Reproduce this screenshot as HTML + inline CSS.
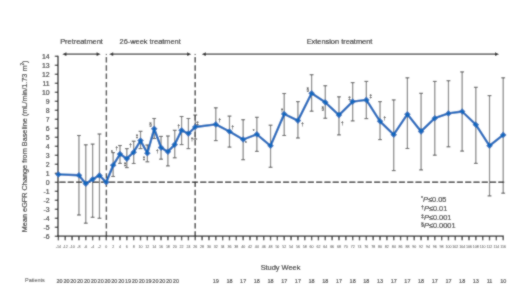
<!DOCTYPE html>
<html><head><meta charset="utf-8"><style>
html,body{margin:0;padding:0;background:#fff;}
body{width:520px;height:295px;overflow:hidden;}
svg{display:block;font-family:"Liberation Sans",sans-serif;}
text{stroke:#222;stroke-width:0.15px;}
</style></head><body>
<svg width="520" height="295" viewBox="0 0 520 295">
<defs><filter id="bl" x="0" y="0" width="520" height="295" filterUnits="userSpaceOnUse"><feConvolveMatrix order="3" kernelMatrix="1 2 1 2 12 2 1 2 1" edgeMode="none"/></filter></defs>
<rect width="520" height="295" fill="#fff"/>
<g filter="url(#bl)">
<rect width="520" height="295" fill="#fff"/>
<line x1="78.93" y1="135.50" x2="78.93" y2="215.00" stroke="#7c7c7c" stroke-width="1.2"/>
<line x1="77.03" y1="135.50" x2="80.83" y2="135.50" stroke="#555" stroke-width="1.1"/>
<line x1="77.03" y1="215.00" x2="80.83" y2="215.00" stroke="#555" stroke-width="1.1"/>
<line x1="85.77" y1="144.80" x2="85.77" y2="223.20" stroke="#7c7c7c" stroke-width="1.2"/>
<line x1="83.87" y1="144.80" x2="87.67" y2="144.80" stroke="#555" stroke-width="1.1"/>
<line x1="83.87" y1="223.20" x2="87.67" y2="223.20" stroke="#555" stroke-width="1.1"/>
<line x1="92.61" y1="144.10" x2="92.61" y2="217.30" stroke="#7c7c7c" stroke-width="1.2"/>
<line x1="90.71" y1="144.10" x2="94.51" y2="144.10" stroke="#555" stroke-width="1.1"/>
<line x1="90.71" y1="217.30" x2="94.51" y2="217.30" stroke="#555" stroke-width="1.1"/>
<line x1="99.46" y1="134.00" x2="99.46" y2="218.30" stroke="#7c7c7c" stroke-width="1.2"/>
<line x1="97.56" y1="134.00" x2="101.36" y2="134.00" stroke="#555" stroke-width="1.1"/>
<line x1="97.56" y1="218.30" x2="101.36" y2="218.30" stroke="#555" stroke-width="1.1"/>
<line x1="113.14" y1="152.60" x2="113.14" y2="176.50" stroke="#7c7c7c" stroke-width="1.2"/>
<line x1="111.24" y1="152.60" x2="115.04" y2="152.60" stroke="#555" stroke-width="1.1"/>
<line x1="111.24" y1="176.50" x2="115.04" y2="176.50" stroke="#555" stroke-width="1.1"/>
<line x1="119.99" y1="145.50" x2="119.99" y2="163.40" stroke="#7c7c7c" stroke-width="1.2"/>
<line x1="118.09" y1="145.50" x2="121.89" y2="145.50" stroke="#555" stroke-width="1.1"/>
<line x1="118.09" y1="163.40" x2="121.89" y2="163.40" stroke="#555" stroke-width="1.1"/>
<line x1="126.83" y1="148.60" x2="126.83" y2="167.60" stroke="#7c7c7c" stroke-width="1.2"/>
<line x1="124.93" y1="148.60" x2="128.73" y2="148.60" stroke="#555" stroke-width="1.1"/>
<line x1="124.93" y1="167.60" x2="128.73" y2="167.60" stroke="#555" stroke-width="1.1"/>
<line x1="133.67" y1="141.20" x2="133.67" y2="163.50" stroke="#7c7c7c" stroke-width="1.2"/>
<line x1="131.77" y1="141.20" x2="135.57" y2="141.20" stroke="#555" stroke-width="1.1"/>
<line x1="131.77" y1="163.50" x2="135.57" y2="163.50" stroke="#555" stroke-width="1.1"/>
<line x1="140.52" y1="131.30" x2="140.52" y2="148.60" stroke="#7c7c7c" stroke-width="1.2"/>
<line x1="138.62" y1="131.30" x2="142.42" y2="131.30" stroke="#555" stroke-width="1.1"/>
<line x1="138.62" y1="148.60" x2="142.42" y2="148.60" stroke="#555" stroke-width="1.1"/>
<line x1="147.36" y1="145.00" x2="147.36" y2="161.80" stroke="#7c7c7c" stroke-width="1.2"/>
<line x1="145.46" y1="145.00" x2="149.26" y2="145.00" stroke="#555" stroke-width="1.1"/>
<line x1="145.46" y1="161.80" x2="149.26" y2="161.80" stroke="#555" stroke-width="1.1"/>
<line x1="154.20" y1="118.50" x2="154.20" y2="138.50" stroke="#7c7c7c" stroke-width="1.2"/>
<line x1="152.30" y1="118.50" x2="156.10" y2="118.50" stroke="#555" stroke-width="1.1"/>
<line x1="152.30" y1="138.50" x2="156.10" y2="138.50" stroke="#555" stroke-width="1.1"/>
<line x1="161.05" y1="136.40" x2="161.05" y2="159.20" stroke="#7c7c7c" stroke-width="1.2"/>
<line x1="159.15" y1="136.40" x2="162.95" y2="136.40" stroke="#555" stroke-width="1.1"/>
<line x1="159.15" y1="159.20" x2="162.95" y2="159.20" stroke="#555" stroke-width="1.1"/>
<line x1="167.89" y1="136.00" x2="167.89" y2="165.90" stroke="#7c7c7c" stroke-width="1.2"/>
<line x1="165.99" y1="136.00" x2="169.79" y2="136.00" stroke="#555" stroke-width="1.1"/>
<line x1="165.99" y1="165.90" x2="169.79" y2="165.90" stroke="#555" stroke-width="1.1"/>
<line x1="174.73" y1="130.30" x2="174.73" y2="157.80" stroke="#7c7c7c" stroke-width="1.2"/>
<line x1="172.83" y1="130.30" x2="176.63" y2="130.30" stroke="#555" stroke-width="1.1"/>
<line x1="172.83" y1="157.80" x2="176.63" y2="157.80" stroke="#555" stroke-width="1.1"/>
<line x1="181.58" y1="116.50" x2="181.58" y2="144.60" stroke="#7c7c7c" stroke-width="1.2"/>
<line x1="179.68" y1="116.50" x2="183.48" y2="116.50" stroke="#555" stroke-width="1.1"/>
<line x1="179.68" y1="144.60" x2="183.48" y2="144.60" stroke="#555" stroke-width="1.1"/>
<line x1="188.42" y1="118.50" x2="188.42" y2="148.60" stroke="#7c7c7c" stroke-width="1.2"/>
<line x1="186.52" y1="118.50" x2="190.32" y2="118.50" stroke="#555" stroke-width="1.1"/>
<line x1="186.52" y1="148.60" x2="190.32" y2="148.60" stroke="#555" stroke-width="1.1"/>
<line x1="195.26" y1="115.00" x2="195.26" y2="139.00" stroke="#7c7c7c" stroke-width="1.2"/>
<line x1="193.36" y1="115.00" x2="197.16" y2="115.00" stroke="#555" stroke-width="1.1"/>
<line x1="193.36" y1="139.00" x2="197.16" y2="139.00" stroke="#555" stroke-width="1.1"/>
<line x1="215.79" y1="107.80" x2="215.79" y2="140.60" stroke="#7c7c7c" stroke-width="1.2"/>
<line x1="213.89" y1="107.80" x2="217.69" y2="107.80" stroke="#555" stroke-width="1.1"/>
<line x1="213.89" y1="140.60" x2="217.69" y2="140.60" stroke="#555" stroke-width="1.1"/>
<line x1="229.48" y1="116.10" x2="229.48" y2="147.10" stroke="#7c7c7c" stroke-width="1.2"/>
<line x1="227.58" y1="116.10" x2="231.38" y2="116.10" stroke="#555" stroke-width="1.1"/>
<line x1="227.58" y1="147.10" x2="231.38" y2="147.10" stroke="#555" stroke-width="1.1"/>
<line x1="243.16" y1="119.70" x2="243.16" y2="159.70" stroke="#7c7c7c" stroke-width="1.2"/>
<line x1="241.26" y1="119.70" x2="245.06" y2="119.70" stroke="#555" stroke-width="1.1"/>
<line x1="241.26" y1="159.70" x2="245.06" y2="159.70" stroke="#555" stroke-width="1.1"/>
<line x1="256.85" y1="117.30" x2="256.85" y2="151.40" stroke="#7c7c7c" stroke-width="1.2"/>
<line x1="254.95" y1="117.30" x2="258.75" y2="117.30" stroke="#555" stroke-width="1.1"/>
<line x1="254.95" y1="151.40" x2="258.75" y2="151.40" stroke="#555" stroke-width="1.1"/>
<line x1="270.54" y1="125.20" x2="270.54" y2="167.30" stroke="#7c7c7c" stroke-width="1.2"/>
<line x1="268.64" y1="125.20" x2="272.44" y2="125.20" stroke="#555" stroke-width="1.1"/>
<line x1="268.64" y1="167.30" x2="272.44" y2="167.30" stroke="#555" stroke-width="1.1"/>
<line x1="284.22" y1="93.50" x2="284.22" y2="135.50" stroke="#7c7c7c" stroke-width="1.2"/>
<line x1="282.32" y1="93.50" x2="286.12" y2="93.50" stroke="#555" stroke-width="1.1"/>
<line x1="282.32" y1="135.50" x2="286.12" y2="135.50" stroke="#555" stroke-width="1.1"/>
<line x1="297.91" y1="101.60" x2="297.91" y2="138.00" stroke="#7c7c7c" stroke-width="1.2"/>
<line x1="296.01" y1="101.60" x2="299.81" y2="101.60" stroke="#555" stroke-width="1.1"/>
<line x1="296.01" y1="138.00" x2="299.81" y2="138.00" stroke="#555" stroke-width="1.1"/>
<line x1="311.60" y1="74.70" x2="311.60" y2="111.20" stroke="#7c7c7c" stroke-width="1.2"/>
<line x1="309.70" y1="74.70" x2="313.50" y2="74.70" stroke="#555" stroke-width="1.1"/>
<line x1="309.70" y1="111.20" x2="313.50" y2="111.20" stroke="#555" stroke-width="1.1"/>
<line x1="325.28" y1="85.70" x2="325.28" y2="118.30" stroke="#7c7c7c" stroke-width="1.2"/>
<line x1="323.38" y1="85.70" x2="327.18" y2="85.70" stroke="#555" stroke-width="1.1"/>
<line x1="323.38" y1="118.30" x2="327.18" y2="118.30" stroke="#555" stroke-width="1.1"/>
<line x1="338.97" y1="96.80" x2="338.97" y2="134.90" stroke="#7c7c7c" stroke-width="1.2"/>
<line x1="337.07" y1="96.80" x2="340.87" y2="96.80" stroke="#555" stroke-width="1.1"/>
<line x1="337.07" y1="134.90" x2="340.87" y2="134.90" stroke="#555" stroke-width="1.1"/>
<line x1="352.66" y1="82.60" x2="352.66" y2="120.90" stroke="#7c7c7c" stroke-width="1.2"/>
<line x1="350.76" y1="82.60" x2="354.56" y2="82.60" stroke="#555" stroke-width="1.1"/>
<line x1="350.76" y1="120.90" x2="354.56" y2="120.90" stroke="#555" stroke-width="1.1"/>
<line x1="366.34" y1="81.40" x2="366.34" y2="118.60" stroke="#7c7c7c" stroke-width="1.2"/>
<line x1="364.44" y1="81.40" x2="368.24" y2="81.40" stroke="#555" stroke-width="1.1"/>
<line x1="364.44" y1="118.60" x2="368.24" y2="118.60" stroke="#555" stroke-width="1.1"/>
<line x1="380.03" y1="101.60" x2="380.03" y2="139.60" stroke="#7c7c7c" stroke-width="1.2"/>
<line x1="378.13" y1="101.60" x2="381.93" y2="101.60" stroke="#555" stroke-width="1.1"/>
<line x1="378.13" y1="139.60" x2="381.93" y2="139.60" stroke="#555" stroke-width="1.1"/>
<line x1="393.71" y1="99.90" x2="393.71" y2="170.60" stroke="#7c7c7c" stroke-width="1.2"/>
<line x1="391.81" y1="99.90" x2="395.61" y2="99.90" stroke="#555" stroke-width="1.1"/>
<line x1="391.81" y1="170.60" x2="395.61" y2="170.60" stroke="#555" stroke-width="1.1"/>
<line x1="407.40" y1="77.80" x2="407.40" y2="148.50" stroke="#7c7c7c" stroke-width="1.2"/>
<line x1="405.50" y1="77.80" x2="409.30" y2="77.80" stroke="#555" stroke-width="1.1"/>
<line x1="405.50" y1="148.50" x2="409.30" y2="148.50" stroke="#555" stroke-width="1.1"/>
<line x1="421.09" y1="93.30" x2="421.09" y2="169.90" stroke="#7c7c7c" stroke-width="1.2"/>
<line x1="419.19" y1="93.30" x2="422.99" y2="93.30" stroke="#555" stroke-width="1.1"/>
<line x1="419.19" y1="169.90" x2="422.99" y2="169.90" stroke="#555" stroke-width="1.1"/>
<line x1="434.77" y1="81.40" x2="434.77" y2="155.20" stroke="#7c7c7c" stroke-width="1.2"/>
<line x1="432.87" y1="81.40" x2="436.67" y2="81.40" stroke="#555" stroke-width="1.1"/>
<line x1="432.87" y1="155.20" x2="436.67" y2="155.20" stroke="#555" stroke-width="1.1"/>
<line x1="448.46" y1="80.70" x2="448.46" y2="146.80" stroke="#7c7c7c" stroke-width="1.2"/>
<line x1="446.56" y1="80.70" x2="450.36" y2="80.70" stroke="#555" stroke-width="1.1"/>
<line x1="446.56" y1="146.80" x2="450.36" y2="146.80" stroke="#555" stroke-width="1.1"/>
<line x1="462.15" y1="71.90" x2="462.15" y2="151.10" stroke="#7c7c7c" stroke-width="1.2"/>
<line x1="460.25" y1="71.90" x2="464.05" y2="71.90" stroke="#555" stroke-width="1.1"/>
<line x1="460.25" y1="151.10" x2="464.05" y2="151.10" stroke="#555" stroke-width="1.1"/>
<line x1="475.83" y1="87.30" x2="475.83" y2="163.40" stroke="#7c7c7c" stroke-width="1.2"/>
<line x1="473.93" y1="87.30" x2="477.73" y2="87.30" stroke="#555" stroke-width="1.1"/>
<line x1="473.93" y1="163.40" x2="477.73" y2="163.40" stroke="#555" stroke-width="1.1"/>
<line x1="489.52" y1="95.60" x2="489.52" y2="195.90" stroke="#7c7c7c" stroke-width="1.2"/>
<line x1="487.62" y1="95.60" x2="491.42" y2="95.60" stroke="#555" stroke-width="1.1"/>
<line x1="487.62" y1="195.90" x2="491.42" y2="195.90" stroke="#555" stroke-width="1.1"/>
<line x1="503.21" y1="77.80" x2="503.21" y2="193.20" stroke="#7c7c7c" stroke-width="1.2"/>
<line x1="501.31" y1="77.80" x2="505.11" y2="77.80" stroke="#555" stroke-width="1.1"/>
<line x1="501.31" y1="193.20" x2="505.11" y2="193.20" stroke="#555" stroke-width="1.1"/>
<line x1="59.4" y1="182.3" x2="504.2" y2="182.3" stroke="#222" stroke-width="1.5" stroke-dasharray="6.2 2.08"/>
<line x1="106.4" y1="57" x2="106.4" y2="236" stroke="#222" stroke-width="1.35" stroke-dasharray="5.4 2.9"/>
<rect x="105.80000000000001" y="53.9" width="1.2" height="1.2" fill="#444"/>
<line x1="195.2" y1="57" x2="195.2" y2="236" stroke="#222" stroke-width="1.35" stroke-dasharray="5.4 2.9"/>
<rect x="194.6" y="53.9" width="1.2" height="1.2" fill="#444"/>
<line x1="58" y1="55.8" x2="58" y2="236.8" stroke="#1a1a1a" stroke-width="1.3"/>
<line x1="57.4" y1="236.2" x2="503.9" y2="236.2" stroke="#1a1a1a" stroke-width="1.3"/>
<line x1="54.8" y1="236.30" x2="58" y2="236.30" stroke="#1a1a1a" stroke-width="1.2"/>
<text x="49.7" y="238.80" text-anchor="end" font-size="6.9" fill="#222">-6</text>
<line x1="54.8" y1="227.30" x2="58" y2="227.30" stroke="#1a1a1a" stroke-width="1.2"/>
<text x="49.7" y="229.80" text-anchor="end" font-size="6.9" fill="#222">-5</text>
<line x1="54.8" y1="218.30" x2="58" y2="218.30" stroke="#1a1a1a" stroke-width="1.2"/>
<text x="49.7" y="220.80" text-anchor="end" font-size="6.9" fill="#222">-4</text>
<line x1="54.8" y1="209.30" x2="58" y2="209.30" stroke="#1a1a1a" stroke-width="1.2"/>
<text x="49.7" y="211.80" text-anchor="end" font-size="6.9" fill="#222">-3</text>
<line x1="54.8" y1="200.30" x2="58" y2="200.30" stroke="#1a1a1a" stroke-width="1.2"/>
<text x="49.7" y="202.80" text-anchor="end" font-size="6.9" fill="#222">-2</text>
<line x1="54.8" y1="191.30" x2="58" y2="191.30" stroke="#1a1a1a" stroke-width="1.2"/>
<text x="49.7" y="193.80" text-anchor="end" font-size="6.9" fill="#222">-1</text>
<line x1="54.8" y1="182.30" x2="58" y2="182.30" stroke="#1a1a1a" stroke-width="1.2"/>
<text x="49.7" y="184.80" text-anchor="end" font-size="6.9" fill="#222">0</text>
<line x1="54.8" y1="173.30" x2="58" y2="173.30" stroke="#1a1a1a" stroke-width="1.2"/>
<text x="49.7" y="175.80" text-anchor="end" font-size="6.9" fill="#222">1</text>
<line x1="54.8" y1="164.30" x2="58" y2="164.30" stroke="#1a1a1a" stroke-width="1.2"/>
<text x="49.7" y="166.80" text-anchor="end" font-size="6.9" fill="#222">2</text>
<line x1="54.8" y1="155.30" x2="58" y2="155.30" stroke="#1a1a1a" stroke-width="1.2"/>
<text x="49.7" y="157.80" text-anchor="end" font-size="6.9" fill="#222">3</text>
<line x1="54.8" y1="146.30" x2="58" y2="146.30" stroke="#1a1a1a" stroke-width="1.2"/>
<text x="49.7" y="148.80" text-anchor="end" font-size="6.9" fill="#222">4</text>
<line x1="54.8" y1="137.30" x2="58" y2="137.30" stroke="#1a1a1a" stroke-width="1.2"/>
<text x="49.7" y="139.80" text-anchor="end" font-size="6.9" fill="#222">5</text>
<line x1="54.8" y1="128.30" x2="58" y2="128.30" stroke="#1a1a1a" stroke-width="1.2"/>
<text x="49.7" y="130.80" text-anchor="end" font-size="6.9" fill="#222">6</text>
<line x1="54.8" y1="119.30" x2="58" y2="119.30" stroke="#1a1a1a" stroke-width="1.2"/>
<text x="49.7" y="121.80" text-anchor="end" font-size="6.9" fill="#222">7</text>
<line x1="54.8" y1="110.30" x2="58" y2="110.30" stroke="#1a1a1a" stroke-width="1.2"/>
<text x="49.7" y="112.80" text-anchor="end" font-size="6.9" fill="#222">8</text>
<line x1="54.8" y1="101.30" x2="58" y2="101.30" stroke="#1a1a1a" stroke-width="1.2"/>
<text x="49.7" y="103.80" text-anchor="end" font-size="6.9" fill="#222">9</text>
<line x1="54.8" y1="92.30" x2="58" y2="92.30" stroke="#1a1a1a" stroke-width="1.2"/>
<text x="49.7" y="94.80" text-anchor="end" font-size="6.9" fill="#222">10</text>
<line x1="54.8" y1="83.30" x2="58" y2="83.30" stroke="#1a1a1a" stroke-width="1.2"/>
<text x="49.7" y="85.80" text-anchor="end" font-size="6.9" fill="#222">11</text>
<line x1="54.8" y1="74.30" x2="58" y2="74.30" stroke="#1a1a1a" stroke-width="1.2"/>
<text x="49.7" y="76.80" text-anchor="end" font-size="6.9" fill="#222">12</text>
<line x1="54.8" y1="65.30" x2="58" y2="65.30" stroke="#1a1a1a" stroke-width="1.2"/>
<text x="49.7" y="67.80" text-anchor="end" font-size="6.9" fill="#222">13</text>
<line x1="54.8" y1="56.30" x2="58" y2="56.30" stroke="#1a1a1a" stroke-width="1.2"/>
<text x="49.7" y="58.80" text-anchor="end" font-size="6.9" fill="#222">14</text>
<line x1="58.40" y1="236.3" x2="58.40" y2="240.3" stroke="#1a1a1a" stroke-width="1.3"/>
<text x="58.40" y="248.1" text-anchor="middle" font-size="3.6" fill="#333" style="stroke:none">-14</text>
<line x1="65.24" y1="236.3" x2="65.24" y2="240.3" stroke="#1a1a1a" stroke-width="1.3"/>
<text x="65.24" y="248.1" text-anchor="middle" font-size="3.6" fill="#333" style="stroke:none">-12</text>
<line x1="72.08" y1="236.3" x2="72.08" y2="240.3" stroke="#1a1a1a" stroke-width="1.3"/>
<text x="72.08" y="248.1" text-anchor="middle" font-size="3.6" fill="#333" style="stroke:none">-10</text>
<line x1="78.93" y1="236.3" x2="78.93" y2="240.3" stroke="#1a1a1a" stroke-width="1.3"/>
<text x="78.93" y="248.1" text-anchor="middle" font-size="3.6" fill="#333" style="stroke:none">-8</text>
<line x1="85.77" y1="236.3" x2="85.77" y2="240.3" stroke="#1a1a1a" stroke-width="1.3"/>
<text x="85.77" y="248.1" text-anchor="middle" font-size="3.6" fill="#333" style="stroke:none">-6</text>
<line x1="92.61" y1="236.3" x2="92.61" y2="240.3" stroke="#1a1a1a" stroke-width="1.3"/>
<text x="92.61" y="248.1" text-anchor="middle" font-size="3.6" fill="#333" style="stroke:none">-4</text>
<line x1="99.46" y1="236.3" x2="99.46" y2="240.3" stroke="#1a1a1a" stroke-width="1.3"/>
<text x="99.46" y="248.1" text-anchor="middle" font-size="3.6" fill="#333" style="stroke:none">-2</text>
<line x1="106.30" y1="236.3" x2="106.30" y2="240.3" stroke="#1a1a1a" stroke-width="1.3"/>
<text x="106.30" y="248.1" text-anchor="middle" font-size="3.6" fill="#333" style="stroke:none">0</text>
<line x1="113.14" y1="236.3" x2="113.14" y2="240.3" stroke="#1a1a1a" stroke-width="1.3"/>
<text x="113.14" y="248.1" text-anchor="middle" font-size="3.6" fill="#333" style="stroke:none">2</text>
<line x1="119.99" y1="236.3" x2="119.99" y2="240.3" stroke="#1a1a1a" stroke-width="1.3"/>
<text x="119.99" y="248.1" text-anchor="middle" font-size="3.6" fill="#333" style="stroke:none">4</text>
<line x1="126.83" y1="236.3" x2="126.83" y2="240.3" stroke="#1a1a1a" stroke-width="1.3"/>
<text x="126.83" y="248.1" text-anchor="middle" font-size="3.6" fill="#333" style="stroke:none">6</text>
<line x1="133.67" y1="236.3" x2="133.67" y2="240.3" stroke="#1a1a1a" stroke-width="1.3"/>
<text x="133.67" y="248.1" text-anchor="middle" font-size="3.6" fill="#333" style="stroke:none">8</text>
<line x1="140.52" y1="236.3" x2="140.52" y2="240.3" stroke="#1a1a1a" stroke-width="1.3"/>
<text x="140.52" y="248.1" text-anchor="middle" font-size="3.6" fill="#333" style="stroke:none">10</text>
<line x1="147.36" y1="236.3" x2="147.36" y2="240.3" stroke="#1a1a1a" stroke-width="1.3"/>
<text x="147.36" y="248.1" text-anchor="middle" font-size="3.6" fill="#333" style="stroke:none">12</text>
<line x1="154.20" y1="236.3" x2="154.20" y2="240.3" stroke="#1a1a1a" stroke-width="1.3"/>
<text x="154.20" y="248.1" text-anchor="middle" font-size="3.6" fill="#333" style="stroke:none">14</text>
<line x1="161.05" y1="236.3" x2="161.05" y2="240.3" stroke="#1a1a1a" stroke-width="1.3"/>
<text x="161.05" y="248.1" text-anchor="middle" font-size="3.6" fill="#333" style="stroke:none">16</text>
<line x1="167.89" y1="236.3" x2="167.89" y2="240.3" stroke="#1a1a1a" stroke-width="1.3"/>
<text x="167.89" y="248.1" text-anchor="middle" font-size="3.6" fill="#333" style="stroke:none">18</text>
<line x1="174.73" y1="236.3" x2="174.73" y2="240.3" stroke="#1a1a1a" stroke-width="1.3"/>
<text x="174.73" y="248.1" text-anchor="middle" font-size="3.6" fill="#333" style="stroke:none">20</text>
<line x1="181.58" y1="236.3" x2="181.58" y2="240.3" stroke="#1a1a1a" stroke-width="1.3"/>
<text x="181.58" y="248.1" text-anchor="middle" font-size="3.6" fill="#333" style="stroke:none">22</text>
<line x1="188.42" y1="236.3" x2="188.42" y2="240.3" stroke="#1a1a1a" stroke-width="1.3"/>
<text x="188.42" y="248.1" text-anchor="middle" font-size="3.6" fill="#333" style="stroke:none">24</text>
<line x1="195.26" y1="236.3" x2="195.26" y2="240.3" stroke="#1a1a1a" stroke-width="1.3"/>
<text x="195.26" y="248.1" text-anchor="middle" font-size="3.6" fill="#333" style="stroke:none">26</text>
<line x1="202.10" y1="236.3" x2="202.10" y2="240.3" stroke="#1a1a1a" stroke-width="1.3"/>
<text x="202.10" y="248.1" text-anchor="middle" font-size="3.6" fill="#333" style="stroke:none">28</text>
<line x1="208.95" y1="236.3" x2="208.95" y2="240.3" stroke="#1a1a1a" stroke-width="1.3"/>
<text x="208.95" y="248.1" text-anchor="middle" font-size="3.6" fill="#333" style="stroke:none">30</text>
<line x1="215.79" y1="236.3" x2="215.79" y2="240.3" stroke="#1a1a1a" stroke-width="1.3"/>
<text x="215.79" y="248.1" text-anchor="middle" font-size="3.6" fill="#333" style="stroke:none">32</text>
<line x1="222.63" y1="236.3" x2="222.63" y2="240.3" stroke="#1a1a1a" stroke-width="1.3"/>
<text x="222.63" y="248.1" text-anchor="middle" font-size="3.6" fill="#333" style="stroke:none">34</text>
<line x1="229.48" y1="236.3" x2="229.48" y2="240.3" stroke="#1a1a1a" stroke-width="1.3"/>
<text x="229.48" y="248.1" text-anchor="middle" font-size="3.6" fill="#333" style="stroke:none">36</text>
<line x1="236.32" y1="236.3" x2="236.32" y2="240.3" stroke="#1a1a1a" stroke-width="1.3"/>
<text x="236.32" y="248.1" text-anchor="middle" font-size="3.6" fill="#333" style="stroke:none">38</text>
<line x1="243.16" y1="236.3" x2="243.16" y2="240.3" stroke="#1a1a1a" stroke-width="1.3"/>
<text x="243.16" y="248.1" text-anchor="middle" font-size="3.6" fill="#333" style="stroke:none">40</text>
<line x1="250.01" y1="236.3" x2="250.01" y2="240.3" stroke="#1a1a1a" stroke-width="1.3"/>
<text x="250.01" y="248.1" text-anchor="middle" font-size="3.6" fill="#333" style="stroke:none">42</text>
<line x1="256.85" y1="236.3" x2="256.85" y2="240.3" stroke="#1a1a1a" stroke-width="1.3"/>
<text x="256.85" y="248.1" text-anchor="middle" font-size="3.6" fill="#333" style="stroke:none">44</text>
<line x1="263.69" y1="236.3" x2="263.69" y2="240.3" stroke="#1a1a1a" stroke-width="1.3"/>
<text x="263.69" y="248.1" text-anchor="middle" font-size="3.6" fill="#333" style="stroke:none">46</text>
<line x1="270.54" y1="236.3" x2="270.54" y2="240.3" stroke="#1a1a1a" stroke-width="1.3"/>
<text x="270.54" y="248.1" text-anchor="middle" font-size="3.6" fill="#333" style="stroke:none">48</text>
<line x1="277.38" y1="236.3" x2="277.38" y2="240.3" stroke="#1a1a1a" stroke-width="1.3"/>
<text x="277.38" y="248.1" text-anchor="middle" font-size="3.6" fill="#333" style="stroke:none">50</text>
<line x1="284.22" y1="236.3" x2="284.22" y2="240.3" stroke="#1a1a1a" stroke-width="1.3"/>
<text x="284.22" y="248.1" text-anchor="middle" font-size="3.6" fill="#333" style="stroke:none">52</text>
<line x1="291.07" y1="236.3" x2="291.07" y2="240.3" stroke="#1a1a1a" stroke-width="1.3"/>
<text x="291.07" y="248.1" text-anchor="middle" font-size="3.6" fill="#333" style="stroke:none">54</text>
<line x1="297.91" y1="236.3" x2="297.91" y2="240.3" stroke="#1a1a1a" stroke-width="1.3"/>
<text x="297.91" y="248.1" text-anchor="middle" font-size="3.6" fill="#333" style="stroke:none">56</text>
<line x1="304.75" y1="236.3" x2="304.75" y2="240.3" stroke="#1a1a1a" stroke-width="1.3"/>
<text x="304.75" y="248.1" text-anchor="middle" font-size="3.6" fill="#333" style="stroke:none">58</text>
<line x1="311.60" y1="236.3" x2="311.60" y2="240.3" stroke="#1a1a1a" stroke-width="1.3"/>
<text x="311.60" y="248.1" text-anchor="middle" font-size="3.6" fill="#333" style="stroke:none">60</text>
<line x1="318.44" y1="236.3" x2="318.44" y2="240.3" stroke="#1a1a1a" stroke-width="1.3"/>
<text x="318.44" y="248.1" text-anchor="middle" font-size="3.6" fill="#333" style="stroke:none">62</text>
<line x1="325.28" y1="236.3" x2="325.28" y2="240.3" stroke="#1a1a1a" stroke-width="1.3"/>
<text x="325.28" y="248.1" text-anchor="middle" font-size="3.6" fill="#333" style="stroke:none">64</text>
<line x1="332.13" y1="236.3" x2="332.13" y2="240.3" stroke="#1a1a1a" stroke-width="1.3"/>
<text x="332.13" y="248.1" text-anchor="middle" font-size="3.6" fill="#333" style="stroke:none">66</text>
<line x1="338.97" y1="236.3" x2="338.97" y2="240.3" stroke="#1a1a1a" stroke-width="1.3"/>
<text x="338.97" y="248.1" text-anchor="middle" font-size="3.6" fill="#333" style="stroke:none">68</text>
<line x1="345.81" y1="236.3" x2="345.81" y2="240.3" stroke="#1a1a1a" stroke-width="1.3"/>
<text x="345.81" y="248.1" text-anchor="middle" font-size="3.6" fill="#333" style="stroke:none">70</text>
<line x1="352.66" y1="236.3" x2="352.66" y2="240.3" stroke="#1a1a1a" stroke-width="1.3"/>
<text x="352.66" y="248.1" text-anchor="middle" font-size="3.6" fill="#333" style="stroke:none">72</text>
<line x1="359.50" y1="236.3" x2="359.50" y2="240.3" stroke="#1a1a1a" stroke-width="1.3"/>
<text x="359.50" y="248.1" text-anchor="middle" font-size="3.6" fill="#333" style="stroke:none">74</text>
<line x1="366.34" y1="236.3" x2="366.34" y2="240.3" stroke="#1a1a1a" stroke-width="1.3"/>
<text x="366.34" y="248.1" text-anchor="middle" font-size="3.6" fill="#333" style="stroke:none">76</text>
<line x1="373.18" y1="236.3" x2="373.18" y2="240.3" stroke="#1a1a1a" stroke-width="1.3"/>
<text x="373.18" y="248.1" text-anchor="middle" font-size="3.6" fill="#333" style="stroke:none">78</text>
<line x1="380.03" y1="236.3" x2="380.03" y2="240.3" stroke="#1a1a1a" stroke-width="1.3"/>
<text x="380.03" y="248.1" text-anchor="middle" font-size="3.6" fill="#333" style="stroke:none">80</text>
<line x1="386.87" y1="236.3" x2="386.87" y2="240.3" stroke="#1a1a1a" stroke-width="1.3"/>
<text x="386.87" y="248.1" text-anchor="middle" font-size="3.6" fill="#333" style="stroke:none">82</text>
<line x1="393.71" y1="236.3" x2="393.71" y2="240.3" stroke="#1a1a1a" stroke-width="1.3"/>
<text x="393.71" y="248.1" text-anchor="middle" font-size="3.6" fill="#333" style="stroke:none">84</text>
<line x1="400.56" y1="236.3" x2="400.56" y2="240.3" stroke="#1a1a1a" stroke-width="1.3"/>
<text x="400.56" y="248.1" text-anchor="middle" font-size="3.6" fill="#333" style="stroke:none">86</text>
<line x1="407.40" y1="236.3" x2="407.40" y2="240.3" stroke="#1a1a1a" stroke-width="1.3"/>
<text x="407.40" y="248.1" text-anchor="middle" font-size="3.6" fill="#333" style="stroke:none">88</text>
<line x1="414.24" y1="236.3" x2="414.24" y2="240.3" stroke="#1a1a1a" stroke-width="1.3"/>
<text x="414.24" y="248.1" text-anchor="middle" font-size="3.6" fill="#333" style="stroke:none">90</text>
<line x1="421.09" y1="236.3" x2="421.09" y2="240.3" stroke="#1a1a1a" stroke-width="1.3"/>
<text x="421.09" y="248.1" text-anchor="middle" font-size="3.6" fill="#333" style="stroke:none">92</text>
<line x1="427.93" y1="236.3" x2="427.93" y2="240.3" stroke="#1a1a1a" stroke-width="1.3"/>
<text x="427.93" y="248.1" text-anchor="middle" font-size="3.6" fill="#333" style="stroke:none">94</text>
<line x1="434.77" y1="236.3" x2="434.77" y2="240.3" stroke="#1a1a1a" stroke-width="1.3"/>
<text x="434.77" y="248.1" text-anchor="middle" font-size="3.6" fill="#333" style="stroke:none">96</text>
<line x1="441.62" y1="236.3" x2="441.62" y2="240.3" stroke="#1a1a1a" stroke-width="1.3"/>
<text x="441.62" y="248.1" text-anchor="middle" font-size="3.6" fill="#333" style="stroke:none">98</text>
<line x1="448.46" y1="236.3" x2="448.46" y2="240.3" stroke="#1a1a1a" stroke-width="1.3"/>
<text x="448.46" y="248.1" text-anchor="middle" font-size="3.6" fill="#333" style="stroke:none">100</text>
<line x1="455.30" y1="236.3" x2="455.30" y2="240.3" stroke="#1a1a1a" stroke-width="1.3"/>
<text x="455.30" y="248.1" text-anchor="middle" font-size="3.6" fill="#333" style="stroke:none">102</text>
<line x1="462.15" y1="236.3" x2="462.15" y2="240.3" stroke="#1a1a1a" stroke-width="1.3"/>
<text x="462.15" y="248.1" text-anchor="middle" font-size="3.6" fill="#333" style="stroke:none">104</text>
<line x1="468.99" y1="236.3" x2="468.99" y2="240.3" stroke="#1a1a1a" stroke-width="1.3"/>
<text x="468.99" y="248.1" text-anchor="middle" font-size="3.6" fill="#333" style="stroke:none">106</text>
<line x1="475.83" y1="236.3" x2="475.83" y2="240.3" stroke="#1a1a1a" stroke-width="1.3"/>
<text x="475.83" y="248.1" text-anchor="middle" font-size="3.6" fill="#333" style="stroke:none">108</text>
<line x1="482.68" y1="236.3" x2="482.68" y2="240.3" stroke="#1a1a1a" stroke-width="1.3"/>
<text x="482.68" y="248.1" text-anchor="middle" font-size="3.6" fill="#333" style="stroke:none">110</text>
<line x1="489.52" y1="236.3" x2="489.52" y2="240.3" stroke="#1a1a1a" stroke-width="1.3"/>
<text x="489.52" y="248.1" text-anchor="middle" font-size="3.6" fill="#333" style="stroke:none">112</text>
<line x1="496.36" y1="236.3" x2="496.36" y2="240.3" stroke="#1a1a1a" stroke-width="1.3"/>
<text x="496.36" y="248.1" text-anchor="middle" font-size="3.6" fill="#333" style="stroke:none">114</text>
<line x1="503.21" y1="236.3" x2="503.21" y2="240.3" stroke="#1a1a1a" stroke-width="1.3"/>
<text x="503.21" y="248.1" text-anchor="middle" font-size="3.6" fill="#333" style="stroke:none">116</text>
<polyline points="58.40,174.40 78.93,175.20 85.77,183.70 92.61,179.30 99.46,175.40 106.30,182.30 113.14,165.30 119.99,154.00 126.83,158.70 133.67,152.20 140.52,140.50 147.36,153.30 154.20,128.70 161.05,147.60 167.89,151.70 174.73,144.60 181.58,130.30 188.42,133.60 195.26,127.00 215.79,124.40 229.48,131.50 243.16,139.50 256.85,134.30 270.54,145.80 284.22,114.00 297.91,120.60 311.60,93.30 325.28,102.30 338.97,115.10 352.66,101.60 366.34,99.90 380.03,121.30 393.71,134.70 407.40,114.20 421.09,131.40 434.77,118.20 448.46,113.40 462.15,111.50 475.83,124.70 489.52,145.80 503.21,134.90" fill="none" stroke="#1769bd" stroke-width="2.4" stroke-linejoin="round"/>
<path d="M58.40 171.10 L61.70 174.40 L58.40 177.70 L55.10 174.40Z" fill="#1769bd"/>
<path d="M78.93 171.90 L82.23 175.20 L78.93 178.50 L75.63 175.20Z" fill="#1769bd"/>
<path d="M85.77 180.40 L89.07 183.70 L85.77 187.00 L82.47 183.70Z" fill="#1769bd"/>
<path d="M92.61 176.00 L95.91 179.30 L92.61 182.60 L89.31 179.30Z" fill="#1769bd"/>
<path d="M99.46 172.10 L102.76 175.40 L99.46 178.70 L96.16 175.40Z" fill="#1769bd"/>
<path d="M106.30 179.00 L109.60 182.30 L106.30 185.60 L103.00 182.30Z" fill="#1769bd"/>
<path d="M113.14 162.00 L116.44 165.30 L113.14 168.60 L109.84 165.30Z" fill="#1769bd"/>
<path d="M119.99 150.70 L123.29 154.00 L119.99 157.30 L116.69 154.00Z" fill="#1769bd"/>
<path d="M126.83 155.40 L130.13 158.70 L126.83 162.00 L123.53 158.70Z" fill="#1769bd"/>
<path d="M133.67 148.90 L136.97 152.20 L133.67 155.50 L130.37 152.20Z" fill="#1769bd"/>
<path d="M140.52 137.20 L143.82 140.50 L140.52 143.80 L137.22 140.50Z" fill="#1769bd"/>
<path d="M147.36 150.00 L150.66 153.30 L147.36 156.60 L144.06 153.30Z" fill="#1769bd"/>
<path d="M154.20 125.40 L157.50 128.70 L154.20 132.00 L150.90 128.70Z" fill="#1769bd"/>
<path d="M161.05 144.30 L164.35 147.60 L161.05 150.90 L157.75 147.60Z" fill="#1769bd"/>
<path d="M167.89 148.40 L171.19 151.70 L167.89 155.00 L164.59 151.70Z" fill="#1769bd"/>
<path d="M174.73 141.30 L178.03 144.60 L174.73 147.90 L171.43 144.60Z" fill="#1769bd"/>
<path d="M181.58 127.00 L184.88 130.30 L181.58 133.60 L178.28 130.30Z" fill="#1769bd"/>
<path d="M188.42 130.30 L191.72 133.60 L188.42 136.90 L185.12 133.60Z" fill="#1769bd"/>
<path d="M195.26 123.70 L198.56 127.00 L195.26 130.30 L191.96 127.00Z" fill="#1769bd"/>
<path d="M215.79 121.10 L219.09 124.40 L215.79 127.70 L212.49 124.40Z" fill="#1769bd"/>
<path d="M229.48 128.20 L232.78 131.50 L229.48 134.80 L226.18 131.50Z" fill="#1769bd"/>
<path d="M243.16 136.20 L246.46 139.50 L243.16 142.80 L239.86 139.50Z" fill="#1769bd"/>
<path d="M256.85 131.00 L260.15 134.30 L256.85 137.60 L253.55 134.30Z" fill="#1769bd"/>
<path d="M270.54 142.50 L273.84 145.80 L270.54 149.10 L267.24 145.80Z" fill="#1769bd"/>
<path d="M284.22 110.70 L287.52 114.00 L284.22 117.30 L280.92 114.00Z" fill="#1769bd"/>
<path d="M297.91 117.30 L301.21 120.60 L297.91 123.90 L294.61 120.60Z" fill="#1769bd"/>
<path d="M311.60 90.00 L314.90 93.30 L311.60 96.60 L308.30 93.30Z" fill="#1769bd"/>
<path d="M325.28 99.00 L328.58 102.30 L325.28 105.60 L321.98 102.30Z" fill="#1769bd"/>
<path d="M338.97 111.80 L342.27 115.10 L338.97 118.40 L335.67 115.10Z" fill="#1769bd"/>
<path d="M352.66 98.30 L355.96 101.60 L352.66 104.90 L349.36 101.60Z" fill="#1769bd"/>
<path d="M366.34 96.60 L369.64 99.90 L366.34 103.20 L363.04 99.90Z" fill="#1769bd"/>
<path d="M380.03 118.00 L383.33 121.30 L380.03 124.60 L376.73 121.30Z" fill="#1769bd"/>
<path d="M393.71 131.40 L397.01 134.70 L393.71 138.00 L390.41 134.70Z" fill="#1769bd"/>
<path d="M407.40 110.90 L410.70 114.20 L407.40 117.50 L404.10 114.20Z" fill="#1769bd"/>
<path d="M421.09 128.10 L424.39 131.40 L421.09 134.70 L417.79 131.40Z" fill="#1769bd"/>
<path d="M434.77 114.90 L438.07 118.20 L434.77 121.50 L431.47 118.20Z" fill="#1769bd"/>
<path d="M448.46 110.10 L451.76 113.40 L448.46 116.70 L445.16 113.40Z" fill="#1769bd"/>
<path d="M462.15 108.20 L465.45 111.50 L462.15 114.80 L458.85 111.50Z" fill="#1769bd"/>
<path d="M475.83 121.40 L479.13 124.70 L475.83 128.00 L472.53 124.70Z" fill="#1769bd"/>
<path d="M489.52 142.50 L492.82 145.80 L489.52 149.10 L486.22 145.80Z" fill="#1769bd"/>
<path d="M503.21 131.60 L506.51 134.90 L503.21 138.20 L499.91 134.90Z" fill="#1769bd"/>
<line x1="64.4" y1="54.2" x2="98.6" y2="54.2" stroke="#333" stroke-width="1.2"/><path d="M62.4 54.2 L66.4 52.300000000000004 L66.4 56.1Z" fill="#111"/><path d="M100.6 54.2 L96.6 52.300000000000004 L96.6 56.1Z" fill="#111"/>
<line x1="111.2" y1="54.2" x2="189.2" y2="54.2" stroke="#333" stroke-width="1.2"/><path d="M109.2 54.2 L113.2 52.300000000000004 L113.2 56.1Z" fill="#111"/><path d="M191.2 54.2 L187.2 52.300000000000004 L187.2 56.1Z" fill="#111"/>
<line x1="203.8" y1="54.2" x2="497" y2="54.2" stroke="#333" stroke-width="1.2"/><path d="M201.8 54.2 L205.8 52.300000000000004 L205.8 56.1Z" fill="#111"/><path d="M499 54.2 L495 52.300000000000004 L495 56.1Z" fill="#111"/>
<text x="81.5" y="44.2" text-anchor="middle" font-size="7.4" fill="#222">Pretreatment</text>
<text x="150.2" y="44.2" text-anchor="middle" font-size="7.4" fill="#222">26-week treatment</text>
<text x="339.5" y="44.2" text-anchor="middle" font-size="7.4" fill="#222">Extension treatment</text>
<text transform="translate(26.5,146.4) rotate(-90)" text-anchor="middle" font-size="7.3" fill="#222">Mean eGFR Change from Baseline (mL/min/1.73 m<tspan font-size="4.5" dy="-2.5">2</tspan><tspan dy="2.5">)</tspan></text>
<text x="280.5" y="270" text-anchor="middle" font-size="7.4" fill="#222">Study Week</text>
<text x="25" y="282" font-size="5.5" fill="#333" style="stroke:none">Patients</text>
<text x="59.60" y="282.6" text-anchor="middle" font-size="5.5" fill="#222" style="stroke-width:0.1px">20</text>
<text x="66.44" y="282.6" text-anchor="middle" font-size="5.5" fill="#222" style="stroke-width:0.1px">20</text>
<text x="73.28" y="282.6" text-anchor="middle" font-size="5.5" fill="#222" style="stroke-width:0.1px">20</text>
<text x="80.13" y="282.6" text-anchor="middle" font-size="5.5" fill="#222" style="stroke-width:0.1px">20</text>
<text x="86.97" y="282.6" text-anchor="middle" font-size="5.5" fill="#222" style="stroke-width:0.1px">20</text>
<text x="93.81" y="282.6" text-anchor="middle" font-size="5.5" fill="#222" style="stroke-width:0.1px">20</text>
<text x="100.66" y="282.6" text-anchor="middle" font-size="5.5" fill="#222" style="stroke-width:0.1px">20</text>
<text x="107.50" y="282.6" text-anchor="middle" font-size="5.5" fill="#222" style="stroke-width:0.1px">20</text>
<text x="114.34" y="282.6" text-anchor="middle" font-size="5.5" fill="#222" style="stroke-width:0.1px">20</text>
<text x="121.19" y="282.6" text-anchor="middle" font-size="5.5" fill="#222" style="stroke-width:0.1px">20</text>
<text x="128.03" y="282.6" text-anchor="middle" font-size="5.5" fill="#222" style="stroke-width:0.1px">19</text>
<text x="134.87" y="282.6" text-anchor="middle" font-size="5.5" fill="#222" style="stroke-width:0.1px">20</text>
<text x="141.72" y="282.6" text-anchor="middle" font-size="5.5" fill="#222" style="stroke-width:0.1px">20</text>
<text x="148.56" y="282.6" text-anchor="middle" font-size="5.5" fill="#222" style="stroke-width:0.1px">19</text>
<text x="155.40" y="282.6" text-anchor="middle" font-size="5.5" fill="#222" style="stroke-width:0.1px">20</text>
<text x="162.25" y="282.6" text-anchor="middle" font-size="5.5" fill="#222" style="stroke-width:0.1px">20</text>
<text x="169.09" y="282.6" text-anchor="middle" font-size="5.5" fill="#222" style="stroke-width:0.1px">20</text>
<text x="175.93" y="282.6" text-anchor="middle" font-size="5.5" fill="#222" style="stroke-width:0.1px">20</text>
<text x="215.79" y="282.6" text-anchor="middle" font-size="5.5" fill="#222" style="stroke-width:0.1px">19</text>
<text x="229.48" y="282.6" text-anchor="middle" font-size="5.5" fill="#222" style="stroke-width:0.1px">18</text>
<text x="243.16" y="282.6" text-anchor="middle" font-size="5.5" fill="#222" style="stroke-width:0.1px">17</text>
<text x="256.85" y="282.6" text-anchor="middle" font-size="5.5" fill="#222" style="stroke-width:0.1px">18</text>
<text x="270.54" y="282.6" text-anchor="middle" font-size="5.5" fill="#222" style="stroke-width:0.1px">18</text>
<text x="284.22" y="282.6" text-anchor="middle" font-size="5.5" fill="#222" style="stroke-width:0.1px">17</text>
<text x="297.91" y="282.6" text-anchor="middle" font-size="5.5" fill="#222" style="stroke-width:0.1px">17</text>
<text x="311.60" y="282.6" text-anchor="middle" font-size="5.5" fill="#222" style="stroke-width:0.1px">18</text>
<text x="325.28" y="282.6" text-anchor="middle" font-size="5.5" fill="#222" style="stroke-width:0.1px">18</text>
<text x="338.97" y="282.6" text-anchor="middle" font-size="5.5" fill="#222" style="stroke-width:0.1px">17</text>
<text x="352.66" y="282.6" text-anchor="middle" font-size="5.5" fill="#222" style="stroke-width:0.1px">18</text>
<text x="366.34" y="282.6" text-anchor="middle" font-size="5.5" fill="#222" style="stroke-width:0.1px">18</text>
<text x="380.03" y="282.6" text-anchor="middle" font-size="5.5" fill="#222" style="stroke-width:0.1px">13</text>
<text x="393.71" y="282.6" text-anchor="middle" font-size="5.5" fill="#222" style="stroke-width:0.1px">17</text>
<text x="407.40" y="282.6" text-anchor="middle" font-size="5.5" fill="#222" style="stroke-width:0.1px">17</text>
<text x="421.09" y="282.6" text-anchor="middle" font-size="5.5" fill="#222" style="stroke-width:0.1px">18</text>
<text x="434.77" y="282.6" text-anchor="middle" font-size="5.5" fill="#222" style="stroke-width:0.1px">17</text>
<text x="448.46" y="282.6" text-anchor="middle" font-size="5.5" fill="#222" style="stroke-width:0.1px">17</text>
<text x="462.15" y="282.6" text-anchor="middle" font-size="5.5" fill="#222" style="stroke-width:0.1px">18</text>
<text x="475.83" y="282.6" text-anchor="middle" font-size="5.5" fill="#222" style="stroke-width:0.1px">13</text>
<text x="489.52" y="282.6" text-anchor="middle" font-size="5.5" fill="#222" style="stroke-width:0.1px">11</text>
<text x="503.21" y="282.6" text-anchor="middle" font-size="5.5" fill="#222" style="stroke-width:0.1px">10</text>
<text x="421" y="202.0" font-size="7.4" fill="#222"><tspan font-size="5.2" dy="-2">*</tspan><tspan dy="2" font-style="italic">P</tspan>≤0.05</text>
<text x="421" y="210.8" font-size="7.4" fill="#222"><tspan font-size="5.2" dy="-2">†</tspan><tspan dy="2" font-style="italic">P</tspan>≤0.01</text>
<text x="421" y="219.6" font-size="7.4" fill="#222"><tspan font-size="5.2" dy="-2">‡</tspan><tspan dy="2" font-style="italic">P</tspan>≤0.001</text>
<text x="421" y="228.4" font-size="7.4" fill="#222"><tspan font-size="5.2" dy="-2">§</tspan><tspan dy="2" font-style="italic">P</tspan>≤0.0001</text>
<text x="112.0" y="153.5" text-anchor="middle" font-size="4.5" fill="#444">*</text>
<text x="116.8" y="150.0" text-anchor="middle" font-size="4.5" fill="#444">†</text>
<text x="125.0" y="165.5" text-anchor="middle" font-size="4.5" fill="#444">‡</text>
<text x="130.5" y="146.5" text-anchor="middle" font-size="4.5" fill="#444">†</text>
<text x="137.0" y="137.5" text-anchor="middle" font-size="4.5" fill="#444">‡</text>
<text x="144.1" y="160.0" text-anchor="middle" font-size="4.5" fill="#444">‡</text>
<text x="150.6" y="125.5" text-anchor="middle" font-size="4.5" fill="#444">§</text>
<text x="157.3" y="152.5" text-anchor="middle" font-size="4.5" fill="#444">†</text>
<text x="178.7" y="127.5" text-anchor="middle" font-size="4.5" fill="#444">†</text>
<text x="191.9" y="140.5" text-anchor="middle" font-size="4.5" fill="#444">†</text>
<text x="197.5" y="124.5" text-anchor="middle" font-size="4.5" fill="#444">‡</text>
<text x="219.7" y="122.0" text-anchor="middle" font-size="4.5" fill="#444">†</text>
<text x="232.8" y="128.5" text-anchor="middle" font-size="4.5" fill="#444">†</text>
<text x="245.8" y="145.0" text-anchor="middle" font-size="4.5" fill="#444">*</text>
<text x="253.7" y="132.5" text-anchor="middle" font-size="4.5" fill="#444">*</text>
<text x="281.9" y="112.0" text-anchor="middle" font-size="4.5" fill="#444">†</text>
<text x="302.6" y="125.5" text-anchor="middle" font-size="4.5" fill="#444">†</text>
<text x="307.8" y="91.0" text-anchor="middle" font-size="4.5" fill="#444">§</text>
<text x="322.8" y="109.5" text-anchor="middle" font-size="4.5" fill="#444">§</text>
<text x="342.2" y="124.5" text-anchor="middle" font-size="4.5" fill="#444">†</text>
<text x="349.4" y="100.0" text-anchor="middle" font-size="4.5" fill="#444">‡</text>
<text x="370.7" y="97.5" text-anchor="middle" font-size="4.5" fill="#444">‡</text>
<text x="384.7" y="119.5" text-anchor="middle" font-size="4.5" fill="#444">†</text>
</g>
</svg>
</body></html>
